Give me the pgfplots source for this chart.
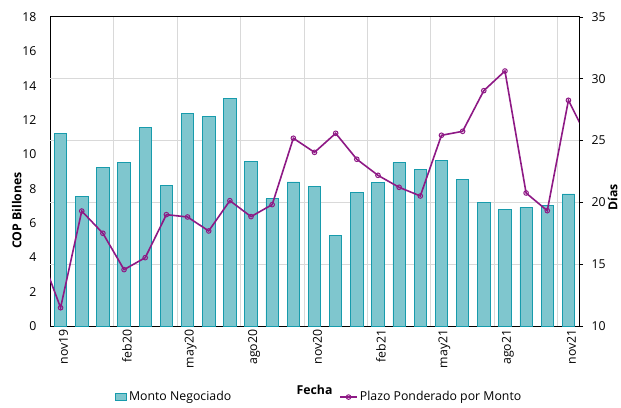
\documentclass[border=0pt]{standalone}
\usepackage{fontspec}
\setmainfont{Open Sans}
\usepackage{pgfplots}
\pgfplotsset{compat=1.18}
\usepackage{pgfplotstable}

\definecolor{barFill}{RGB}{127, 198, 206}
\definecolor{barEdge}{RGB}{23, 155, 172}
\definecolor{plazo}{RGB}{142, 25, 133}
\definecolor{gridGray}{RGB}{217, 217, 217}

% monthly traded amount, nov19 .. nov21 (COP billones)
\pgfplotstableread{
x monto
0  11.22
1  7.57
2  9.22
3  9.53
4  11.57
5  8.17
6  12.37
7  12.19
8  13.26
9  9.57
10 7.41
11 8.39
12 8.11
13 5.28
14 7.76
15 8.35
16 9.51
17 9.12
18 9.65
19 8.52
20 7.20
21 6.80
22 6.91
23 7.00
24 7.69
}\montotable

% weighted term (days); first and last points fall outside the axis and get clipped
\pgfplotstableread{
x plazo
-1 16.08
0  11.48
1  19.30
2  17.50
3  14.56
4  15.53
5  19.01
6  18.82
7  17.69
8  20.14
9  18.85
10 19.82
11 25.19
12 24.05
13 25.59
14 23.49
15 22.19
16 21.22
17 20.52
18 25.43
19 25.75
20 29.04
21 30.63
22 20.76
23 19.33
24 28.26
25 24.84
}\plazotable

\pgfplotsset{
    twin/.style={
        scale only axis,
        width  = 529pt,
        height = 309pt,
        at     = {(50pt,81pt)},
        anchor = south west,
        xmin = -0.5, xmax = 24.5,
        font = \fontsize{12.3}{15}\selectfont,
        /pgf/number format/assume math mode=true,
    },
    smallpatch/.style={
        legend image code/.code={\draw[##1] (2pt,-3.5pt) rectangle (13pt,3.5pt);},
    },
}

\begin{document}
\begin{tikzpicture}
\useasboundingbox (0,0) rectangle (621pt,407pt);

\begin{axis}[
    twin,
    ymin = 0, ymax = 18,
    ytick = {0,2,...,18},
    xtick = {0,3,...,24},
    xticklabels = {nov19,feb20,may20,ago20,nov20,feb21,may21,ago21,nov21},
    x tick label style = {rotate=90, anchor=east, yshift=-3pt},
    y tick label style = {xshift=-10pt},
    xtick style = {draw=none},
    ytick style = {draw=none},
    % grid lines: vertical ones between quarters, horizontal ones follow the right axis
    extra x ticks = {2.5,5.5,...,23.5},
    extra x tick labels = {},
    extra y ticks = {3.6,7.2,10.8,14.4},
    extra y tick labels = {},
    extra tick style = {grid=major, major grid style={gridGray, line width=0.8pt}},
    axis line style = {black, line width=1pt},
    ylabel = {\bfseries COP Billones},
    ylabel style = {at={(axis description cs:-0.063,0.374)}, anchor=center, rotate=0},
    xlabel = {\bfseries Fecha},
    xlabel style = {at={(axis description cs:0.5,-0.207)}, anchor=center},
]
\addplot[ybar, bar width=12.4pt, fill=barFill, draw=barEdge, line width=0.8pt]
    table[x=x, y=monto] {\montotable};
\end{axis}

\begin{axis}[
    twin,
    ymin = 10, ymax = 35,
    ytick = {10,15,...,35},
    axis x line = none,
    axis y line* = right,
    axis line style = {black, line width=1pt, -},
    tick align = outside,
    major tick length = 4pt,
    ytick style = {black, line width=0.8pt},
    y tick label style = {xshift=5pt},
    ylabel = {\bfseries Días},
    ylabel style = {at={(axis description cs:1.0635,0.417)}, anchor=center, rotate=0},
    legend columns = 2,
    legend style = {
        at = {(0.509,-0.23)},
        anchor = center,
        draw = none,
        fill = none,
        font = \fontsize{12.3}{15}\selectfont,
        /tikz/every even column/.append style={column sep=106pt},
    },
]
\addlegendimage{smallpatch, fill=barFill, draw=barEdge, line width=0.8pt}
\addlegendentry{Monto Negociado}
\addplot[plazo, line width=1.6pt, mark=o, mark size=2.3pt,
         mark options={fill=white, line width=1pt}]
    table[x=x, y=plazo] {\plazotable};
\addlegendentry{Plazo Ponderado por Monto}
\end{axis}
\end{tikzpicture}
\end{document}
